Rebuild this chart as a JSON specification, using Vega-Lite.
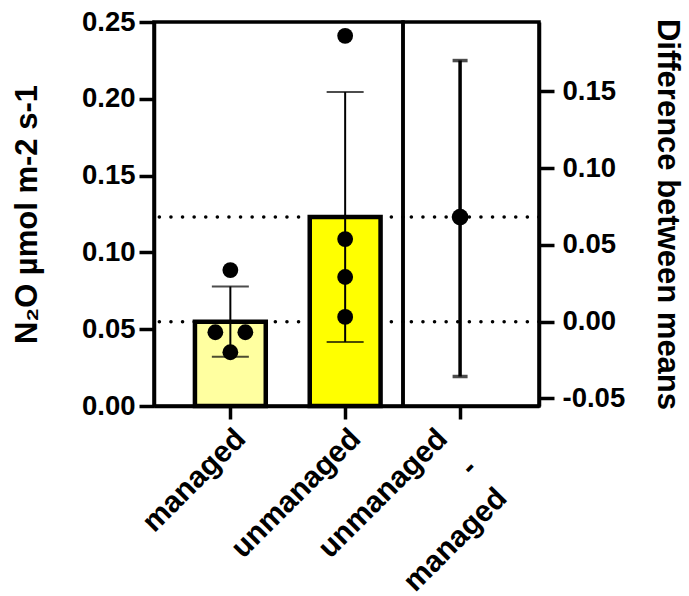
{
  "$schema": "https://vega.github.io/schema/vega-lite/v6.json",
  "autosize": {"type": "pad"},
  "padding": {"left": 9, "top": 6, "right": 0, "bottom": 0},
  "background": "white",
  "spacing": 0,
  "bounds": "flush",
  "datasets": {
    "points": [
      {"group": "managed", "value": 0.0885, "lane": 0},
      {"group": "managed", "value": 0.048, "lane": -1},
      {"group": "managed", "value": 0.048, "lane": 1},
      {"group": "managed", "value": 0.035, "lane": 0},
      {"group": "unmanaged", "value": 0.241, "lane": 0},
      {"group": "unmanaged", "value": 0.1087, "lane": 0},
      {"group": "unmanaged", "value": 0.084, "lane": 0},
      {"group": "unmanaged", "value": 0.058, "lane": 0}
    ],
    "summary": [
      {"group": "managed", "mean": 0.0549, "lo": 0.032, "hi": 0.0778},
      {"group": "unmanaged", "mean": 0.1230, "lo": 0.0417, "hi": 0.2044}
    ],
    "diff": [
      {"label": "unmanaged - managed", "mean": 0.0681, "lo": -0.0357, "hi": 0.170}
    ]
  },
  "config": {
    "font": "Liberation Sans",
    "view": {"stroke": "black", "strokeWidth": 3.5},
    "axis": {
      "grid": false,
      "labelFont": "Liberation Sans",
      "labelFontWeight": "bold",
      "labelFontSize": 27.5,
      "labelColor": "black",
      "titleFont": "Liberation Sans",
      "titleFontWeight": "bold",
      "titleFontSize": 31,
      "titleColor": "black",
      "domainColor": "black",
      "domainWidth": 3.5,
      "tickColor": "black",
      "tickWidth": 3.5,
      "tickSize": 15,
      "labelPadding": 4
    }
  },
  "hconcat": [
    {
      "width": 249,
      "height": 384,
      "layer": [
        {
          "data": {"name": "summary"},
          "mark": {"type": "rule", "strokeDash": [0.1, 11.5], "strokeCap": "round", "strokeWidth": 3.5, "color": "black"},
          "encoding": {
            "y": {"field": "mean", "type": "quantitative", "scale": {"domain": [0, 0.25], "nice": false},
                  "title": "N₂O µmol m-2 s-1",
                  "axis": {"values": [0, 0.05, 0.1, 0.15, 0.2, 0.25], "format": ".2f", "titlePadding": 38}}
          }
        },
        {
          "data": {"name": "summary"},
          "mark": {"type": "bar", "stroke": "black", "strokeWidth": 4.5},
          "encoding": {
            "x": {"field": "group", "type": "nominal", "sort": ["managed", "unmanaged"],
                  "scale": {"paddingInner": 0.383, "paddingOuter": 0.276, "align": 0.646},
                  "axis": {"title": null, "labelAngle": -45, "labelFontSize": 30, "tickSize": 13}},
            "y": {"field": "mean", "type": "quantitative", "title": "N₂O µmol m-2 s-1"},
            "color": {"field": "group", "type": "nominal", "scale": {"domain": ["managed", "unmanaged"], "range": ["#FFFFA0", "#FFFF00"]}, "legend": null}
          }
        },
        {
          "data": {"name": "summary"},
          "mark": {"type": "errorbar", "ticks": true, "thickness": 2, "size": 37, "color": "black"},
          "encoding": {
            "x": {"field": "group", "type": "nominal"},
            "y": {"field": "lo", "type": "quantitative", "title": "N₂O µmol m-2 s-1"},
            "y2": {"field": "hi"}
          }
        },
        {
          "data": {"name": "points"},
          "transform": [{"filter": "datum.lane == 0"}],
          "mark": {"type": "point", "filled": true, "color": "black", "opacity": 1, "size": 250},
          "encoding": {
            "x": {"field": "group", "type": "nominal"},
            "y": {"field": "value", "type": "quantitative", "title": "N₂O µmol m-2 s-1"}
          }
        },
        {
          "data": {"name": "points"},
          "transform": [{"filter": "datum.lane == -1"}],
          "mark": {"type": "point", "filled": true, "color": "black", "opacity": 1, "size": 250, "xOffset": -15},
          "encoding": {
            "x": {"field": "group", "type": "nominal"},
            "y": {"field": "value", "type": "quantitative", "title": "N₂O µmol m-2 s-1"}
          }
        },
        {
          "data": {"name": "points"},
          "transform": [{"filter": "datum.lane == 1"}],
          "mark": {"type": "point", "filled": true, "color": "black", "opacity": 1, "size": 250, "xOffset": 15},
          "encoding": {
            "x": {"field": "group", "type": "nominal"},
            "y": {"field": "value", "type": "quantitative", "title": "N₂O µmol m-2 s-1"}
          }
        }
      ]
    },
    {
      "width": 136,
      "height": 384,
      "data": {"name": "diff"},
      "layer": [
        {
          "mark": {"type": "rule", "strokeDash": [0.1, 11.5], "strokeCap": "round", "strokeWidth": 3.5, "color": "black"},
          "encoding": {
            "y": {"field": "mean", "type": "quantitative", "scale": {"domain": [-0.0549, 0.1951], "nice": false},
                  "title": "Difference between means",
                  "axis": {"orient": "right", "values": [-0.05, 0, 0.05, 0.1, 0.15], "format": ".2f", "labelPadding": 8,
                           "labelExpr": "replace(datum.label, '\u2212', '-')", "titlePadding": 26}}
          }
        },
        {
          "mark": {"type": "rule", "strokeDash": [0.1, 11.5], "strokeCap": "round", "strokeWidth": 3.5, "color": "black"},
          "encoding": {"y": {"datum": 0, "type": "quantitative", "title": "Difference between means"}}
        },
        {
          "mark": {"type": "errorbar", "ticks": true, "thickness": 3.5, "size": 15, "color": "black"},
          "encoding": {
            "x": {"field": "label", "type": "nominal",
                  "scale": {"paddingInner": 0.383, "paddingOuter": 0.276, "align": 0.33},
                  "axis": {"title": null, "labelAngle": -45, "labelFontSize": 30, "tickSize": 13, "labelLineHeight": 42,
                           "labelOffset": -28, "labelExpr": "['unmanaged', '-', 'managed']"}},
            "y": {"field": "lo", "type": "quantitative", "title": "Difference between means"},
            "y2": {"field": "hi"}
          }
        },
        {
          "mark": {"type": "point", "filled": true, "color": "black", "opacity": 1, "size": 280},
          "encoding": {
            "x": {"field": "label", "type": "nominal"},
            "y": {"field": "mean", "type": "quantitative", "title": "Difference between means"}
          }
        }
      ]
    }
  ]
}
